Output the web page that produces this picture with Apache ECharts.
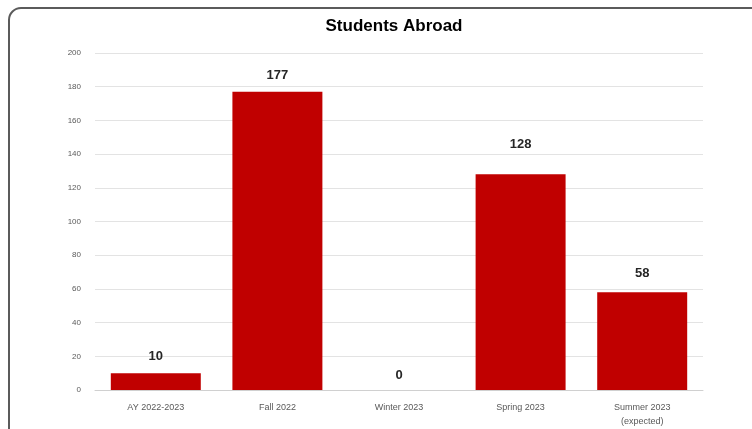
<!DOCTYPE html>
<html>
<head>
<meta charset="utf-8">
<script src="https://cdn.jsdelivr.net/npm/echarts@6/dist/echarts.min.js"></script>
<style>
html,body{margin:0;padding:0;background:#fff;}
#chart{width:752px;height:429px;}
</style>
</head>
<body>
<div id="chart"></div>
<script>
const categories = ["AY 2022-2023", "Fall 2022", "Winter 2023", "Spring 2023", "Summer 2023\n(expected)"];
const students = [10, 177, 0, 128, 58];
const labelDistances = [10, 10, 8, 23, 12];
const yTicks = [0, 20, 40, 60, 80, 100, 120, 140, 160, 180, 200];

const chart = echarts.init(document.getElementById('chart'), null, {renderer: 'canvas'});
chart.setOption({
  animation: false,
  backgroundColor: '#ffffff',
  title: {
    text: 'Students Abroad',
    left: 389, top: 13, textAlign: 'center',
    textStyle: {fontFamily: 'Liberation Sans, Arial', fontSize: 17, fontWeight: 'bold', color: '#000'}
  },
  graphic: [{
    type: 'rect', silent: true,
    shape: {x: 9, y: 8, width: 800, height: 500, r: 12},
    style: {fill: 'none', stroke: '#5b5b5b', lineWidth: 2}
  }],
  grid: {left: 95, right: 49, top: 53, bottom: 36, containLabel: false},
  xAxis: {
    type: 'category',
    data: categories,
    axisLine: {show: true, lineStyle: {color: '#d0d0d0', width: 1}},
    axisTick: {show: false},
    axisLabel: {fontFamily: 'Liberation Sans, Arial', fontSize: 9, color: '#595959', margin: 11, lineHeight: 14, interval: 0}
  },
  yAxis: {
    type: 'value',
    min: yTicks[0], max: yTicks[yTicks.length - 1], interval: 20,
    axisLine: {show: false},
    axisTick: {show: false},
    splitLine: {lineStyle: {color: '#e3e3e3', width: 1}},
    axisLabel: {fontFamily: 'Liberation Sans, Arial', fontSize: 8, color: '#595959', margin: 14}
  },
  series: [{
    type: 'bar',
    data: students.map((v, i) => ({value: v, label: {distance: labelDistances[i]}})),
    barWidth: '74%',
    itemStyle: {color: '#c00000'},
    label: {
      show: true, position: 'top',
      fontFamily: 'Liberation Sans, Arial', fontSize: 13, fontWeight: 'bold', color: '#262626'
    }
  }]
});
</script>
</body>
</html>
